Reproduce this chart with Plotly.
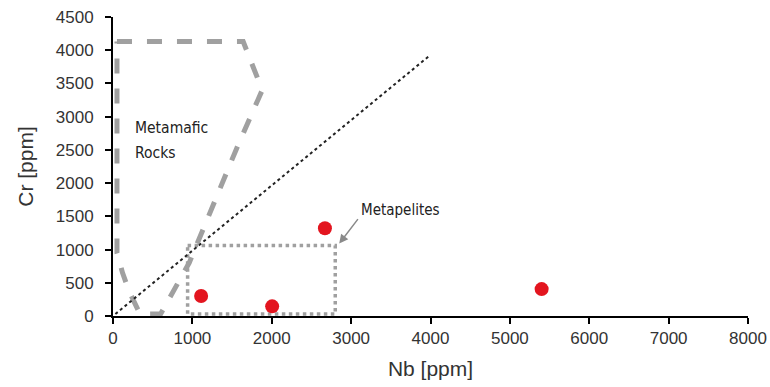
import plotly.graph_objects as go

# Sample data
nb = [1110, 2005, 2670, 5400]
cr = [300, 145, 1320, 405]

# Metamafic rocks field outline
mafic_x = [50, 1640, 1880, 1550, 960, 640, 600, 340, 200, 120, 50, 50]
mafic_y = [4130, 4130, 3400, 2500, 800, 80, 30, 30, 380, 650, 950, 4130]

# Metapelites field outline
pel_x = [940, 2800, 2800, 940, 940]
pel_y = [1060, 1060, 30, 30, 1060]

# Reference line
ref_x = [30, 4000]
ref_y = [30, 3930]

fig = go.Figure()
fig.add_trace(go.Scatter(x=mafic_x, y=mafic_y, mode="lines",
                         line=dict(color="#a0a0a0", width=5, dash="dash"),
                         hoverinfo="skip"))
fig.add_trace(go.Scatter(x=pel_x, y=pel_y, mode="lines",
                         line=dict(color="#a0a0a0", width=3.5, dash="dot"),
                         hoverinfo="skip"))
fig.add_trace(go.Scatter(x=ref_x, y=ref_y, mode="lines",
                         line=dict(color="#222222", width=2, dash="dot"),
                         hoverinfo="skip"))
fig.add_trace(go.Scatter(x=nb, y=cr, mode="markers",
                         marker=dict(color="#e3151f", size=14, symbol="circle",
                                     line=dict(width=0))))

narrow = "DejaVu Sans Condensed, Liberation Sans Narrow, Arial"
fig.add_annotation(x=250, y=2830, xref="x", yref="y", xanchor="left",
                   text="Metamafic", showarrow=False,
                   font=dict(family=narrow, size=15.5, color="#222"))
fig.add_annotation(x=250, y=2450, xref="x", yref="y", xanchor="left",
                   text="Rocks", showarrow=False,
                   font=dict(family=narrow, size=15.5, color="#222"))
fig.add_annotation(x=2850, y=1090, ax=3100, ay=1480, xref="x", yref="y",
                   axref="x", ayref="y", showarrow=True, arrowhead=2,
                   arrowcolor="#8a8a8a", arrowwidth=1.5, arrowsize=1.2, text="")
fig.add_annotation(x=3100, y=1600, xref="x", yref="y", xanchor="left",
                   text="Metapelites", showarrow=False,
                   font=dict(family=narrow, size=15, color="#222"))

axis_font = dict(family="Liberation Sans, Arial", size=17, color="#333")
fig.update_layout(
    width=770, height=387,
    margin=dict(l=113, r=22, t=17, b=71),
    plot_bgcolor="white", paper_bgcolor="white",
    showlegend=False,
    xaxis=dict(range=[0, 8000], tickvals=list(range(0, 8001, 1000)),
               showgrid=False, zeroline=False, showline=True, linecolor="black",
               linewidth=2, ticks="outside", ticklen=6, tickwidth=2, tickcolor="black",
               tickfont=axis_font, automargin=False, ticklabeloverflow="allow",
               title=dict(text="Nb [ppm]", font=dict(family="Liberation Sans, Arial", size=21, color="#333"),
                          standoff=14)),
    yaxis=dict(range=[0, 4500], tickvals=list(range(0, 4501, 500)),
               showgrid=False, zeroline=False, showline=True, linecolor="black",
               linewidth=2, ticks="outside", ticklen=6, tickwidth=2, tickcolor="black",
               tickfont=axis_font, ticklabelstandoff=8, automargin=False,
               ticklabeloverflow="allow",
               title=dict(text="Cr [ppm]", font=dict(family="Liberation Sans, Arial", size=21, color="#333"),
                          standoff=16)),
)
fig.write_html("out.html")
